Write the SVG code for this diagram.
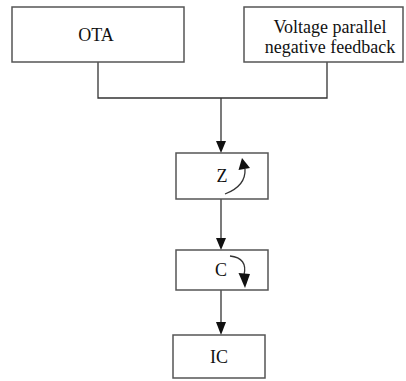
<svg xmlns="http://www.w3.org/2000/svg" width="406" height="381" viewBox="0 0 406 381">
<style>
.box{fill:#fff;stroke:#555;stroke-width:1.5}
.t{font-family:"Liberation Serif","Times New Roman",serif;font-size:18px;fill:#111;text-anchor:middle}
.ln{fill:none;stroke:#333;stroke-width:1.3}
.hd{fill:#111}
</style>
<rect width="406" height="381" fill="#fff"/>
<g id="connectors">
<path class="ln" d="M98,62 V98 H327 V62"/>
<path class="ln" d="M221,98 V142"/>
<polygon class="hd" points="216,141 226,141 221,153"/>
<path class="ln" d="M221,199 V239"/>
<polygon class="hd" points="216,238 226,238 221,250"/>
<path class="ln" d="M221,290 V323"/>
<polygon class="hd" points="216,322 226,322 221,335"/>
</g>
<g id="ota"><rect class="box" x="12" y="7" width="172" height="55"/><text class="t" x="96" y="41">OTA</text></g>
<g id="feedback"><rect class="box" x="244" y="7" width="159" height="55"/><text class="t" x="330" y="33">Voltage parallel</text><text class="t" x="330" y="53">negative feedback</text></g>
<g id="z"><rect class="box" x="176" y="153" width="92" height="46"/><text class="t" x="222" y="182">Z</text>
<path class="ln" d="M225,194 Q246,186 245,169"/><polygon class="hd" points="242,158 238.5,170 250,168"/></g>
<g id="c"><rect class="box" x="176" y="250" width="92" height="40"/><text class="t" x="221" y="276">C</text>
<path class="ln" d="M230,256 Q248,258 244,275"/><polygon class="hd" points="245,288 238.5,273 250,274"/></g>
<g id="ic"><rect class="box" x="173" y="335" width="92" height="43"/><text class="t" x="219" y="363">IC</text></g>
</svg>
